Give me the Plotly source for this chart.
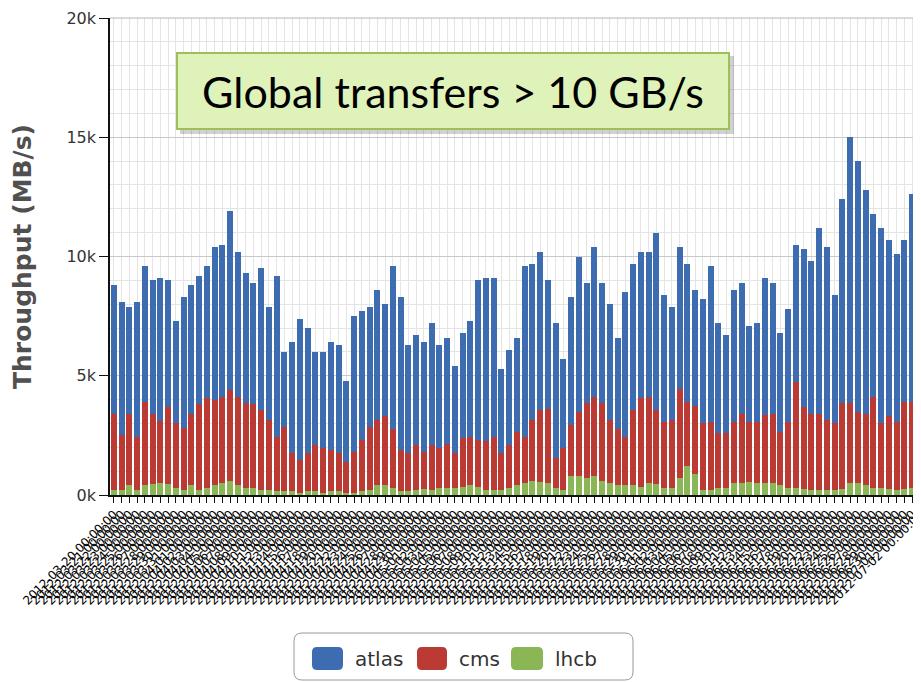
import plotly.graph_objects as go
from datetime import date, timedelta

# ---------------- data (MB/s) ----------------
start_day = date(2012, 3, 20)
categories = [(start_day + timedelta(days=i)).strftime("%Y-%m-%d 00:00:00") for i in range(105)]

atlas = [5400, 5600, 4500, 5650, 5700, 5600, 6000, 5300, 4300, 5500,
         5400, 5400, 5550, 6400, 6400, 7500, 6100, 5450, 5100, 5950,
         4750, 6750, 3150, 4650, 5950, 5250, 3900, 4050, 4500, 4550,
         3400, 5700, 5400, 5050, 5450, 4700, 6850, 6400, 4550, 4600,
         4600, 5100, 4350, 4450, 3650, 4400, 4850, 6700, 6850, 6650,
         3550, 4000, 3950, 7150, 6550, 6650, 5400, 5650, 3750, 5350,
         6500, 5050, 6300, 5050, 4850, 3850, 6050, 6150, 6150, 6100,
         7450, 5350, 4750, 5950, 5800, 4850, 5200, 6550, 4600, 4100,
         5550, 5500, 4050, 4150, 5750, 5500, 4150, 4750, 5750, 6600,
         6400, 7800, 7250, 5400, 8550, 11150, 10500, 9400, 7700, 8200,
         7400, 7050, 6800, 8700, 10450]

cms = [3200, 2300, 3000, 2250, 3500, 2950, 2600, 3250, 2700, 2600,
       3000, 3600, 3750, 3600, 3600, 3800, 3700, 3550, 3500, 3350,
       2950, 2300, 2700, 1600, 1350, 1600, 1950, 1850, 1750, 1600,
       1300, 1700, 2150, 2650, 2750, 2900, 2450, 1750, 1600, 1900,
       1550, 1900, 1650, 1850, 1450, 2050, 2050, 1950, 2050, 2250,
       1550, 1800, 2250, 1950, 2550, 3000, 3100, 1250, 1750, 2150,
       2700, 3150, 3300, 3250, 2650, 2350, 2050, 3150, 3700, 3600,
       3100, 2750, 2850, 3750, 2700, 2850, 2800, 2850, 2300, 2300,
       2550, 2900, 2500, 2550, 2850, 2900, 2250, 2750, 4450, 3450,
       3200, 3200, 2950, 2800, 3600, 3350, 3000, 3000, 3800, 2700,
       3050, 2850, 3650, 3600, 2150]

lhcb = [200, 200, 400, 200, 400, 450, 500, 450, 300, 200,
        400, 200, 300, 400, 500, 600, 400, 300, 300, 200,
        200, 150, 150, 150, 100, 150, 150, 100, 150, 150,
        100, 100, 150, 200, 400, 400, 300, 150, 150, 200,
        250, 200, 300, 300, 300, 350, 400, 350, 200, 200,
        200, 300, 400, 500, 600, 550, 500, 300, 200, 800,
        800, 700, 800, 600, 500, 400, 400, 400, 350, 500,
        450, 300, 300, 700, 1200, 900, 200, 200, 300, 300,
        500, 500, 550, 500, 500, 500, 400, 300, 300, 250,
        200, 200, 200, 200, 250, 500, 500, 400, 300, 300,
        250, 200, 250, 300, 300]

series_names = ["atlas", "cms", "lhcb"]
series_colors = ["#3d6db0", "#bb3a33", "#8ab656"]
y_tickvals = [0, 5000, 10000, 15000, 20000]
y_ticktext = ["0k", "5k", "10k", "15k", "20k"]

# ---------------- layout geometry (pixels) ----------------
OFF = 8                      # page body margin of the browser
W, H = 913, 674
ML, MT, MB = 102, 10, 187
PW, PH = W - ML, H - MT - MB


def px(x):                   # screen x -> paper
    return (x - OFF - ML) / PW


def py(y):                   # screen y -> paper
    return (H - MB - (y - OFF)) / PH


def rrect(x0, y0, x1, y1, r):
    rx, ry = r / PW, r / PH
    a0, a1 = px(x0), px(x1)
    b0, b1 = py(y0), py(y1)  # b0 top, b1 bottom
    return (f"M{a0+rx},{b0} L{a1-rx},{b0} Q{a1},{b0} {a1},{b0-ry} "
            f"L{a1},{b1+ry} Q{a1},{b1} {a1-rx},{b1} L{a0+rx},{b1} "
            f"Q{a0},{b1} {a0},{b1+ry} L{a0},{b0-ry} Q{a0},{b0} {a0+rx},{b0} Z")


fig = go.Figure()
for name, vals, col in [("lhcb", lhcb, series_colors[2]),
                        ("cms", cms, series_colors[1]),
                        ("atlas", atlas, series_colors[0])]:
    fig.add_trace(go.Bar(x=categories, y=vals, name=name,
                         marker=dict(color=col, line=dict(width=0)),
                         showlegend=False))

shapes = []
shapes.append(dict(type="line", xref="paper", yref="paper", x0=0, x1=1, y0=1, y1=1,
                   line=dict(color="#b5b5b5", width=1)))
shapes.append(dict(type="rect", xref="paper", yref="paper",
                   x0=px(180), x1=px(734), y0=py(56), y1=py(134),
                   fillcolor="rgba(0,0,0,0.18)", line=dict(width=0), layer="above"))
shapes.append(dict(type="path", xref="paper", yref="paper",
                   path=rrect(294, 633, 633, 680, 8),
                   fillcolor="white", line=dict(color="#9a9a9a", width=1)))
legend_items = [(312, 343, "atlas", series_colors[0]),
                (417, 447, "cms", series_colors[1]),
                (511, 543, "lhcb", series_colors[2])]
annotations = []
for x0, x1, name, col in legend_items:
    shapes.append(dict(type="path", xref="paper", yref="paper",
                       path=rrect(x0, 647, x1, 670, 5),
                       fillcolor=col, line=dict(width=0)))
    annotations.append(dict(xref="paper", yref="paper", x=px(x1 + 10), y=py(659),
                            xanchor="left", yanchor="middle", showarrow=False,
                            text=name, font=dict(family="DejaVu Sans", size=20, color="#333333")))

annotations.append(dict(xref="paper", yref="paper", x=px(453), y=py(91),
                        xanchor="center", yanchor="middle", showarrow=False,
                        text="Global transfers > 10 GB/s",
                        font=dict(family="Lato", size=43, color="#000000"),
                        bgcolor="#dff2b9", bordercolor="#9dbf5c", borderwidth=2,
                        borderpad=0, width=550, height=74, align="center", valign="middle"))

fig.update_layout(
    width=W, height=H,
    margin=dict(l=ML, r=0, t=MT, b=MB, autoexpand=False),
    paper_bgcolor="white", plot_bgcolor="white",
    barmode="stack", bargap=0.22,
    showlegend=False,
    shapes=shapes, annotations=annotations,
    font=dict(family="DejaVu Sans", color="#333333"),
)
fig.update_xaxes(
    type="category", tickmode="array", tickvals=categories, ticktext=categories,
    tickangle=-45, tickfont=dict(family="DejaVu Sans", size=12, color="#000000"),
    ticks="outside", ticklen=6, tickcolor="#111111",
    showline=True, linecolor="#111111", linewidth=1.5,
    showgrid=True, gridcolor="#e4e4e4", gridwidth=1,
    range=[-0.5, -0.5 + PW / 7.75], automargin=False,
)
fig.update_yaxes(
    range=[0, 20000], tickmode="array", tickvals=y_tickvals, ticktext=y_ticktext,
    tickfont=dict(family="DejaVu Sans", size=16, color="#333333"),
    ticks="outside", ticklen=9, tickcolor="#111111",
    showline=True, linecolor="#111111", linewidth=1.5,
    showgrid=True, gridcolor="#c9c9c9", gridwidth=1,
    minor=dict(dtick=1000, showgrid=True, gridcolor="#e4e4e4", gridwidth=1, ticks=""),
    zeroline=False,
    title=dict(text="<b>Throughput (MB/s)</b>", standoff=31,
               font=dict(family="DejaVu Sans", size=25, color="#505050")),
    automargin=False,
)

fig.write_html("out.html")
